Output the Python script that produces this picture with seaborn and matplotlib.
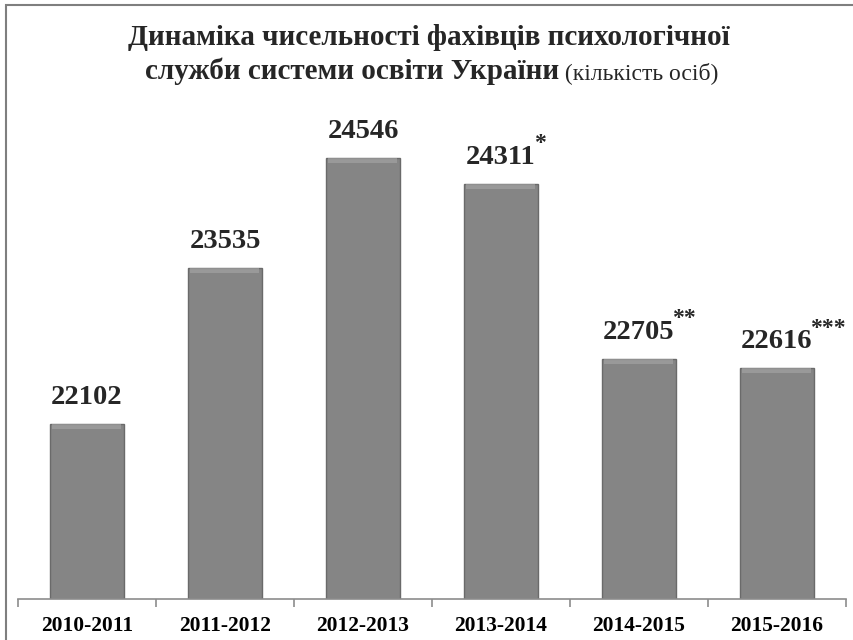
import matplotlib
matplotlib.use('Agg')
import matplotlib.pyplot as plt
import seaborn as sns
import pandas as pd
from matplotlib.patches import Rectangle

# дані
years = ['2010-2011', '2011-2012', '2012-2013', '2013-2014', '2014-2015', '2015-2016']
counts = [22102, 23535, 24546, 24311, 22705, 22616]
marks = ['', '', '', '*', '**', '***']

title_line1 = 'Динаміка чисельності фахівців психологічної'
title_line2_bold = 'служби системи освіти України'
title_line2_normal = ' (кількість осіб)'

df = pd.DataFrame({'year': years, 'count': counts})

sns.set_theme(style='white')
plt.rcParams['font.family'] = ['Liberation Serif', 'DejaVu Serif']

W, H = 854, 640
fig = plt.figure(figsize=(W / 100, H / 100), dpi=100)
# axes placed in pixel terms: x 18..846, baseline y=599, top y=108
ax = fig.add_axes([18 / W, 1 - 599 / H, (846 - 18) / W, (599 - 108.5) / H])

sns.barplot(data=df, x='year', y='count', color='#858585', width=0.54,
            edgecolor='#6a6a6a', linewidth=1.0, saturation=1, ax=ax)

# lighter top strip (bevel look)
for p in ax.patches:
    x0 = p.get_x()
    w = p.get_width()
    top = p.get_height()
    ax.add_patch(Rectangle((x0 + 0.02, top - 45), w - 0.04, 45,
                           facecolor='#a8a8a8', edgecolor='none', alpha=0.6, zorder=3))

ax.set_ylim(20500, 25000)
ax.set_xlim(-0.5, len(years) - 0.5)
ax.set_xlabel('')
ax.set_ylabel('')
ax.set_yticks([])
for s in ['left', 'right', 'top']:
    ax.spines[s].set_visible(False)
ax.spines['bottom'].set_color('#8c8c8c')
ax.spines['bottom'].set_linewidth(1.2)

ax.set_xticks(range(len(years)))
ax.set_xticklabels(years, fontsize=15.5, fontweight='bold', color='black')
ax.set_xticks([i - 0.5 for i in range(len(years) + 1)], minor=True)
ax.tick_params(axis='x', which='major', length=0, pad=12)
ax.tick_params(axis='x', which='minor', length=6, width=1.2, color='#8c8c8c', bottom=True)

for i, (v, m) in enumerate(zip(counts, marks)):
    ax.annotate(f'{v}', xy=(i, v), xytext=(0, 10), textcoords='offset points',
                ha='center', va='bottom', fontsize=20.5, fontweight='bold')
    if m:
        ax.annotate(m, xy=(i, v), xytext=(24, 21), textcoords='offset points',
                    ha='left', va='bottom', fontsize=17, fontweight='bold')

# title
fig.text(429 / W, 1 - 45 / H, title_line1, ha='center', va='baseline',
         fontsize=21, fontweight='bold')
t_b = fig.text(0, 1 - 79 / H, title_line2_bold, ha='left', va='baseline',
               fontsize=21, fontweight='bold')
t_n = fig.text(0, 1 - 79 / H, title_line2_normal, ha='left', va='baseline',
               fontsize=17)
fig.canvas.draw()
r = fig.canvas.get_renderer()
wb = t_b.get_window_extent(r).width
wn = t_n.get_window_extent(r).width
x_start = 432 - (wb + wn) / 2
t_b.set_x(x_start / W)
t_n.set_x((x_start + wb) / W)

# chart border
fig.patches.append(Rectangle((6 / W, -0.1), 1.2, 1 - 4.5 / H + 0.1, transform=fig.transFigure,
                             fill=False, edgecolor='#7f7f7f', linewidth=1.5))

fig.savefig('out.png', dpi=100)
